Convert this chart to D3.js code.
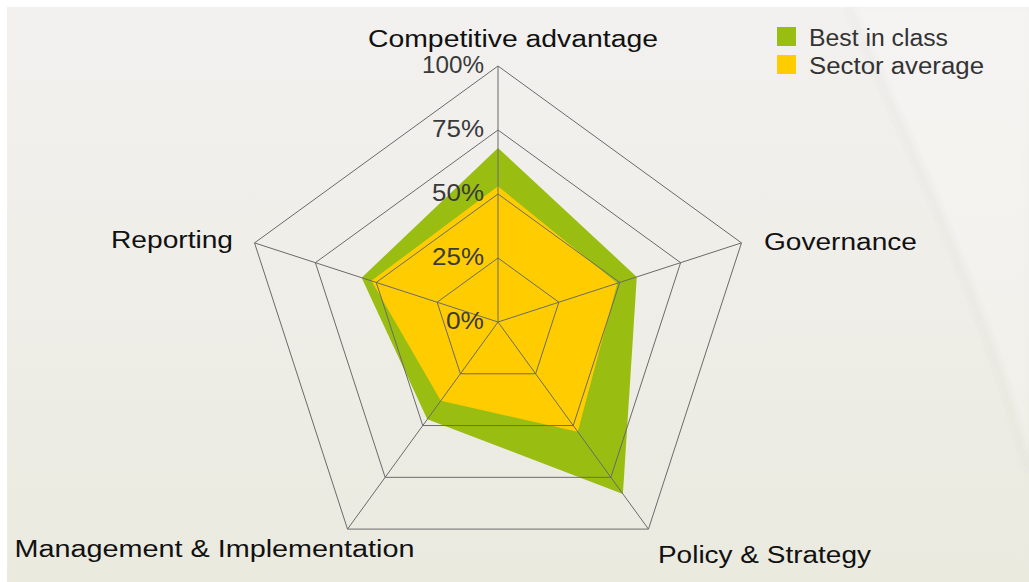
<!DOCTYPE html>
<html>
<head>
<meta charset="utf-8">
<script src="https://cdn.jsdelivr.net/npm/d3@7"></script>
<style>
html,body{margin:0;padding:0;background:#ffffff;}
svg{display:block;}
</style>
</head>
<body>
<svg id="chart" width="1029" height="582"></svg>
<script>
// ---- data ----
const categories = ["Competitive advantage", "Governance", "Policy & Strategy", "Management & Implementation", "Reporting"];
const bestInClass = [68, 57, 83, 47, 56];
const sectorAverage = [53, 49, 53, 38, 52];
const tickValues = [0, 25, 50, 75, 100];
const tickLabels = ["0%", "25%", "50%", "75%", "100%"];
const seriesNames = ["Best in class", "Sector average"];
const seriesColors = ["#99bd10", "#ffcc00"];

// ---- layout ----
const W = 1029, H = 582;
const cx = 498, cy = 322, R = 256;
const svg = d3.select("#chart");
const defs = svg.append("defs");
const grad = defs.append("linearGradient").attr("id", "bg").attr("x1", 0).attr("y1", 0).attr("x2", 0).attr("y2", 1);
grad.append("stop").attr("offset", "0%").attr("stop-color", "#f3f1ef");
grad.append("stop").attr("offset", "55%").attr("stop-color", "#eeede7");
grad.append("stop").attr("offset", "100%").attr("stop-color", "#eaeadf");
const blur = defs.append("filter").attr("id", "soft").attr("x", "-20%").attr("y", "-20%").attr("width", "140%").attr("height", "140%");
blur.append("feGaussianBlur").attr("stdDeviation", 3);

svg.append("rect").attr("x", 7).attr("y", 7).attr("width", W - 7).attr("height", H - 7).attr("fill", "url(#bg)");

// decorative soft arc on the right
svg.append("path")
  .attr("d", "M850,8 C910,150 985,300 1029,470 L1029,8 Z")
  .attr("fill", "rgba(255,255,255,0.22)").attr("filter", "url(#soft)");
svg.append("path")
  .attr("d", "M850,8 C910,150 985,300 1029,470")
  .attr("fill", "none").attr("stroke", "rgba(120,120,100,0.07)").attr("stroke-width", 5).attr("filter", "url(#soft)");

const r = d3.scaleLinear().domain([0, 100]).range([0, R]);
const n = categories.length;
const angle = d3.scaleLinear().domain([0, n]).range([0, 2 * Math.PI]);

const g = svg.append("g").attr("transform", `translate(${cx},${cy})`);

const radial = d3.lineRadial()
  .angle((d, i) => angle(i))
  .radius(d => r(d))
  .curve(d3.curveLinearClosed);

// series areas
[bestInClass, sectorAverage].forEach((vals, si) => {
  g.append("path").attr("d", radial(vals)).attr("fill", seriesColors[si]).attr("stroke", "none");
});

// grid polygons
tickValues.filter(v => v > 0).forEach(v => {
  g.append("path")
    .attr("d", radial(categories.map(() => v)))
    .attr("fill", "none").attr("stroke", "#6a6a6a").attr("stroke-width", 1);
});
// spokes
categories.forEach((c, i) => {
  const p = d3.pointRadial(angle(i), r(100));
  g.append("line").attr("x1", 0).attr("y1", 0).attr("x2", p[0]).attr("y2", p[1])
    .attr("stroke", "#6a6a6a").attr("stroke-width", 1);
});

// tick labels
const tickWidths = [38, 52, 52, 52, 62];
tickValues.forEach((v, i) => {
  g.append("text")
    .attr("x", -14).attr("y", -r(v) + 7)
    .attr("text-anchor", "end")
    .attr("font-family", "'Liberation Sans', Arial, sans-serif")
    .attr("font-size", 23).attr("fill", "#3a3a3a")
    .attr("textLength", tickWidths[i]).attr("lengthAdjust", "spacingAndGlyphs")
    .text(tickLabels[i]);
});

// category labels (offsets from each axis end)
const labelLayout = [
  {dx: -130, dy: -19.5, w: 290},
  {dx: 22.5, dy: 7, w: 153},
  {dx: 9.5, dy: 34, w: 213},
  {dx: -333, dy: 27.5, w: 400},
  {dx: -143.5, dy: 5.5, w: 122}
];
categories.forEach((c, i) => {
  const p = d3.pointRadial(angle(i), r(100));
  const L = labelLayout[i];
  g.append("text")
    .attr("x", p[0] + L.dx).attr("y", p[1] + L.dy)
    .attr("text-anchor", "start")
    .attr("font-family", "'Liberation Sans', Arial, sans-serif")
    .attr("font-size", 23).attr("fill", "#111")
    .attr("textLength", L.w).attr("lengthAdjust", "spacingAndGlyphs")
    .text(c);
});

// legend
const legend = svg.append("g").attr("transform", "translate(777,27)");
const legendWidths = [139, 175];
seriesNames.forEach((s, i) => {
  const row = legend.append("g").attr("transform", `translate(0,${i * 28})`);
  row.append("rect").attr("width", 19).attr("height", 19).attr("fill", seriesColors[i]);
  row.append("text").attr("x", 32).attr("y", 18.5)
    .attr("font-family", "'Liberation Sans', Arial, sans-serif")
    .attr("font-size", 23).attr("fill", "#333")
    .attr("textLength", legendWidths[i]).attr("lengthAdjust", "spacingAndGlyphs")
    .text(s);
});
</script>
</body>
</html>
